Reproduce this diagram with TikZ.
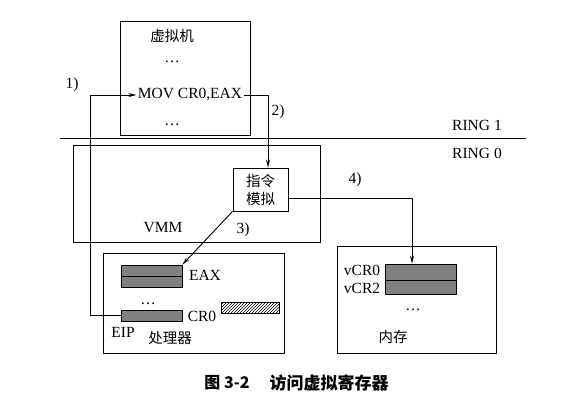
\documentclass[tikz,border=0pt]{standalone}
\usepackage{fontspec}
\setmainfont{Liberation Serif}
\newfontfamily\cjk{Noto Sans CJK SC}
\usetikzlibrary{arrows.meta,patterns,calc}
\begin{document}
\begin{tikzpicture}[x=1pt,y=-1pt,
  line width=0.9pt,
  every node/.style={font=\fontsize{15.5}{17}\selectfont},
  box/.style={draw,minimum width=#1,inner sep=0pt},
  bar/.style={draw,fill=black!50,inner sep=0pt,line width=0.8pt},
  arr/.style={-{Stealth[length=8pt,width=4pt]}},
  lbl/.style={inner sep=0pt},
  zh/.style={inner sep=0pt,font=\cjk\fontsize{14.5}{16}\selectfont}]
\useasboundingbox (0,0) rectangle (574,400);
% boxes
\node[box=130pt,minimum height=114pt] (vm) at (185,78) {};
\node[box=247pt,minimum height=97pt] (vmm) at (196.5,193.5) {};
\node[box=55pt,minimum height=43pt,align=center,font=\cjk\fontsize{14.5}{18}\selectfont] (sim) at (260.5,189.5) {指令\\模拟};
\node[box=181pt,minimum height=100pt] (cpu) at (193.5,303) {};
\node[box=159pt,minimum height=107pt] (mem) at (416.5,299.5) {};
% bars
\node[bar,minimum width=61pt,minimum height=11pt] (eax1) at (151.5,270.5) {};
\node[bar,minimum width=61pt,minimum height=11pt] (eax2) at (151.5,281.5) {};
\node[bar,minimum width=61pt,minimum height=11pt] (cr0) at (151.5,315.5) {};
\node[draw,inner sep=0pt,line width=0.8pt,minimum width=58pt,minimum height=11pt,pattern=north east lines] (hatch) at (250,307.5) {};
\node[bar,minimum width=71pt,minimum height=16pt] (vcr0) at (420.5,272) {};
\node[bar,minimum width=71pt,minimum height=14pt] (vcr2) at (420.5,287) {};
% ring line
\coordinate (ringL) at (60,138);
\coordinate (ringR) at (526,138);
\draw (ringL) -- (ringR);
\node[lbl] (r1) at (477,125) {RING 1};
\node[lbl] (r0) at (477,153) {RING 0};
% VM texts
\node[zh] (vmt) at (172,36) {虚拟机};
\node[lbl] (d1) at (172,62) {\dots};
\node[inner sep=1pt] (mov) at (190,95) {MOV CR0,EAX};
\node[lbl] (d2) at (172,125) {\dots};
% VMM
\node[lbl] (vmmt) at (163,228) {VMM};
% cpu texts
\node[lbl] (eaxt) at (205,275) {EAX};
\node[lbl] (d3) at (148,304) {\dots};
\node[lbl] (cr0t) at (202,316) {CR0};
\node[lbl] (eipt) at (123,332) {EIP};
\node[zh] (cput) at (170,338) {处理器};
% mem texts
\node[lbl] (vcr0t) at (362,270) {vCR0};
\node[lbl] (vcr2t) at (362,288) {vCR2};
\node[lbl] (d4) at (413,310) {\dots};
\node[zh] (memt) at (393,337) {内存};
% step labels
\node[lbl] (l1) at (72,85) {1)};
\node[lbl] (l2) at (278,112) {2)};
\node[lbl] (l3) at (243,230) {3)};
\node[lbl] (l4) at (355,180) {4)};
% connectors
\coordinate (c1) at (90,95);
\draw[arr] (cr0.west) -| (c1) -- (mov.west);
\coordinate (c2) at (268,95);
\draw[arr] (mov.east) -- (c2) -- (c2 |- sim.north);
\draw[arr] (sim.south west) -- (eax1.north east);
\coordinate (c4) at (412,198);
\draw[arr] (sim.east |- c4) -- (c4) -- (c4 |- vcr0.north);
% caption
\node[inner sep=0pt,font=\cjk\bfseries\fontsize{16}{18}\selectfont] (cap1) at (227,383) {图 3-2};
\node[inner sep=0pt,font=\cjk\bfseries\fontsize{17}{18}\selectfont] (cap2) at (329,383) {访问虚拟寄存器};
\end{tikzpicture}
\end{document}
